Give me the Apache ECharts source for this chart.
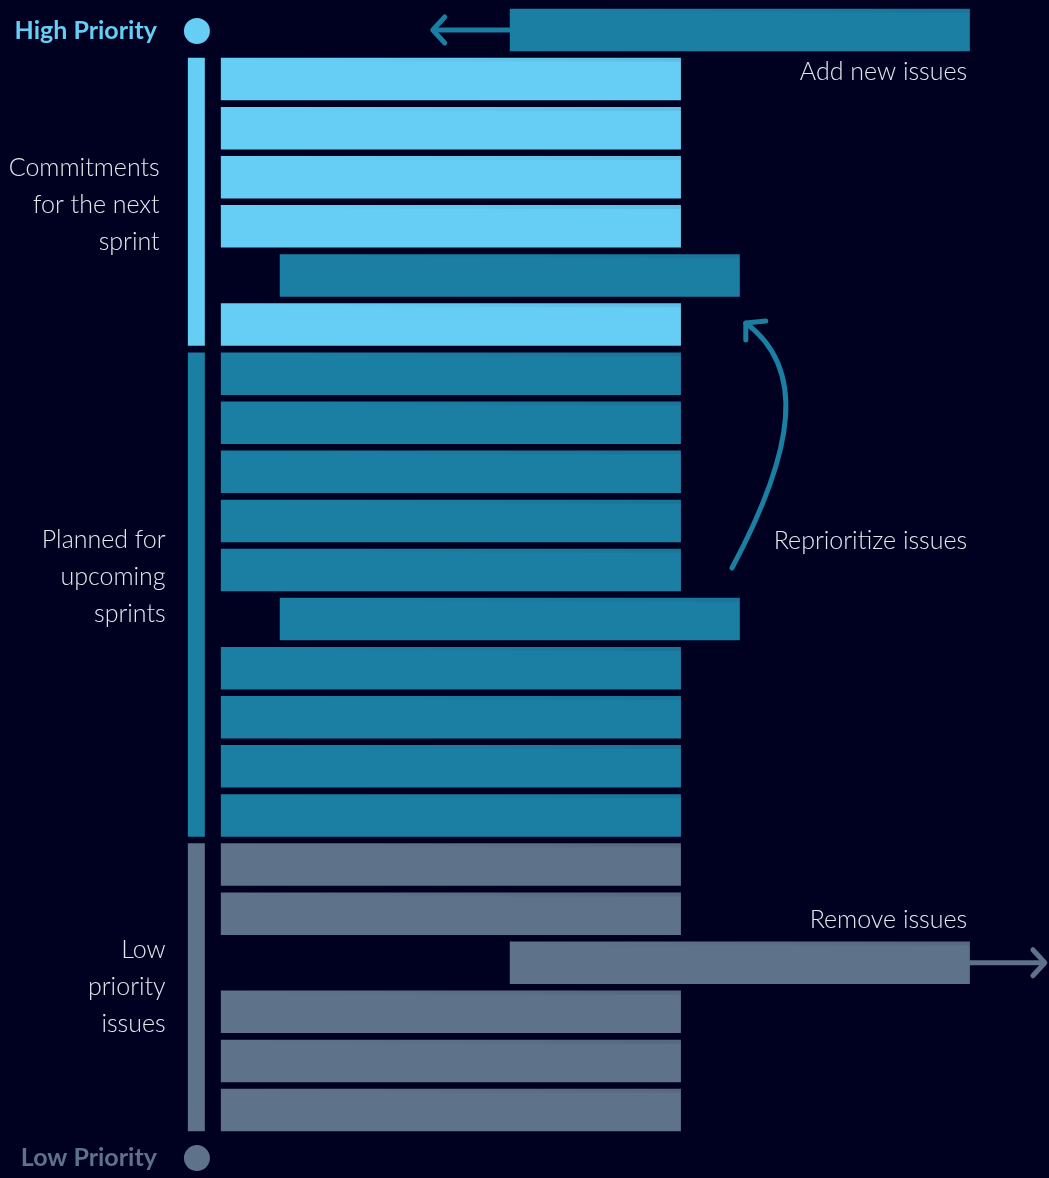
<!DOCTYPE html>
<html><head><meta charset="utf-8">
<script src="https://cdn.jsdelivr.net/npm/echarts@6/dist/echarts.min.js"></script>
<style>html,body{margin:0;padding:0;background:#000020;}#c{width:1049px;height:1178px;}</style>
</head><body><div id="c"></div>
<script>
// ---- data ----
const barRow   = [0,1,2,3,4,5,6,7,8,9,10,11,12,13,14,15,16,17,18,19,20,21,22];
const barStart = [62.8,0,0,0,0,12.8,0,0,0,0,0,0,12.8,0,0,0,0,0,0,62.8,0,0,0];
const barEnd   = [162.8,100,100,100,100,112.8,100,100,100,100,100,100,112.8,100,100,100,100,100,100,162.8,100,100,100];
const barTier  = [1,0,0,0,0,1,0,1,1,1,1,1,1,1,1,1,1,2,2,2,2,2,2];

const tierLabels   = ['Commitments\nfor the next\nsprint', 'Planned for\nupcoming\nsprints', 'Low\npriority\nissues'];
const tierFirstRow = [1, 7, 17];
const tierLastRow  = [6, 16, 22];
const tierLabelRow = [3.56, 11.14, 19.5];

const actionLabels   = ['Add new issues', 'Reprioritize issues', 'Remove issues'];
const actionLabelRow = [0.86, 10.41, 18.13];

const priorityLabels = ['High Priority', 'Low Priority'];
const priorityRow    = [0.02, 22.98];
const priorityTier   = [0, 2];

// ---- style / layout ----
const tierColors = ['#66CEF5', '#1B7FA4', '#5E7289'];
const textColor = '#E6E8EE';
const FONT = 'Lato, "Open Sans", "Noto Sans", sans-serif';
const sideBarX = [-7.17, -3.48];
const tierLabelX = [-13.3, -12, -12];
const actionLabelX = 162.2;
const priorityLabelX = -13.9;
const circleX = -5.2;

const chart = echarts.init(document.getElementById('c'), null, {renderer: 'canvas'});

const barData = barRow.map((r, i) => [r, barStart[i], barEnd[i], barTier[i]]);
const sideData = tierFirstRow.map((f, i) => [f, tierLastRow[i], i]);

function barH(api) { return api.size([0, 1])[1] * 0.866; }

chart.setOption({
  backgroundColor: '#000020',
  animation: false,
  grid: {left: 0, right: 0, top: 0, bottom: 0},
  xAxis: {type: 'value', min: -48, max: 180, show: false},
  yAxis: {type: 'value', min: -0.611, max: 23.385, inverse: true, show: false},
  series: [
    {
      type: 'custom', name: 'issues', data: barData, clip: false,
      encode: {x: [1, 2], y: 0},
      renderItem(params, api) {
        const r = api.value(0), s = api.value(1), e = api.value(2), t = api.value(3);
        const p0 = api.coord([s, r]), p1 = api.coord([e, r]);
        const h = barH(api);
        return {type: 'group', children: [
          {type: 'rect', shape: {x: p0[0], y: p0[1] - h / 2, width: p1[0] - p0[0], height: h},
           style: {fill: tierColors[t]}},
          {type: 'rect', shape: {x: p0[0], y: p0[1] - h / 2, width: p1[0] - p0[0], height: 4},
           style: {fill: new echarts.graphic.LinearGradient(0, 0, 1, 0, [
             {offset: 0, color: 'rgba(0,0,30,0)'}, {offset: 0.5, color: 'rgba(0,0,30,0.03)'}, {offset: 1, color: 'rgba(0,0,30,0.08)'}])}}
        ]};
      }
    },
    {
      type: 'custom', name: 'tiers', data: sideData, clip: false,
      encode: {y: [0, 1]},
      renderItem(params, api) {
        const f = api.value(0), l = api.value(1), t = api.value(2);
        const h = barH(api);
        const a = api.coord([sideBarX[0], f]), b = api.coord([sideBarX[1], l]);
        const lp = api.coord([tierLabelX[t], tierLabelRow[t]]);
        return {type: 'group', children: [
          {type: 'rect', shape: {x: a[0], y: a[1] - h / 2, width: b[0] - a[0], height: b[1] - a[1] + h},
           style: {fill: tierColors[t]}},
          {type: 'text', style: {text: tierLabels[t], x: lp[0], y: lp[1], align: 'right', verticalAlign: 'middle',
            fill: textColor, fontSize: 25, fontWeight: 300, fontFamily: FONT, lineHeight: 37}}
        ]};
      }
    },
    {
      type: 'custom', name: 'priority', data: priorityRow.map((r, i) => [r, i]), clip: false,
      encode: {y: 0},
      renderItem(params, api) {
        const r = api.value(0), i = api.value(1);
        const c = api.coord([circleX, r]);
        const lp = api.coord([priorityLabelX, r]);
        const col = tierColors[priorityTier[i]];
        return {type: 'group', children: [
          {type: 'circle', shape: {cx: c[0], cy: c[1], r: 13}, style: {fill: col}},
          {type: 'text', style: {text: priorityLabels[i], x: lp[0], y: lp[1], align: 'right', verticalAlign: 'middle',
            fill: col, fontSize: 25, fontWeight: 'bold', fontFamily: FONT}}
        ]};
      }
    },
    {
      type: 'custom', name: 'actions', data: actionLabelRow.map((r, i) => [r, i]), clip: false,
      encode: {y: 0},
      renderItem(params, api) {
        const r = api.value(0), i = api.value(1);
        const lp = api.coord([actionLabelX, r]);
        const children = [
          {type: 'text', style: {text: actionLabels[i], x: lp[0], y: lp[1], align: 'right', verticalAlign: 'middle',
            fill: textColor, fontSize: 25, fontWeight: 300, fontFamily: FONT}}
        ];
        const lineStyle = (c) => ({stroke: c, lineWidth: 5, lineCap: 'round', lineJoin: 'round', fill: null});
        if (i === 0) {
          const s = api.coord([barStart[0], barRow[0]]);
          const tip = [s[0] - 77, s[1]];
          children.push({type: 'line', shape: {x1: s[0], y1: s[1], x2: tip[0] + 2, y2: tip[1]}, style: lineStyle(tierColors[1])});
          children.push({type: 'polyline', shape: {points: [[tip[0] + 12, tip[1] - 13], tip, [tip[0] + 12, tip[1] + 13]]}, style: lineStyle(tierColors[1])});
        } else if (i === 1) {
          const p0 = api.coord([111.1, 10.96]);
          const p3 = api.coord([114.1, 5.97]);
          children.push({type: 'bezierCurve', shape: {x1: p0[0], y1: p0[1], cpx1: p0[0] + 64, cpy1: p0[1] - 120,
            cpx2: p0[0] + 74, cpy2: p0[1] - 200, x2: p3[0], y2: p3[1]}, style: lineStyle(tierColors[1])});
          children.push({type: 'polyline', shape: {points: [[p3[0] + 20, p3[1] - 2], p3, [p3[0], p3[1] + 17]]}, style: lineStyle(tierColors[1])});
        } else {
          const e = api.coord([barEnd[19], barRow[19]]);
          const tip = [e[0] + 75, e[1]];
          children.push({type: 'line', shape: {x1: e[0], y1: e[1], x2: tip[0] - 2, y2: tip[1]}, style: lineStyle(tierColors[2])});
          children.push({type: 'polyline', shape: {points: [[tip[0] - 12, tip[1] - 13], tip, [tip[0] - 12, tip[1] + 13]]}, style: lineStyle(tierColors[2])});
        }
        return {type: 'group', children};
      }
    }
  ]
});
</script></body></html>
